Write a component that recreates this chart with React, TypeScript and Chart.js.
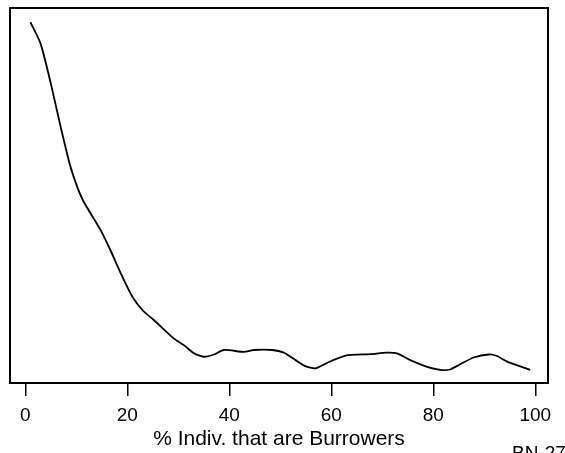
import React, { useEffect, useRef } from "react";
import { Chart, registerables } from "chart.js";

Chart.register(...registerables);

// % of individuals that are burrowers (x) vs curve value (y, arbitrary units 0-100)
const xValues = [
  1.0, 3.0, 5.0, 7.0, 8.9, 11.2, 14.8, 16.7, 18.7, 21.0, 23.0, 25.2, 29.1, 31.1,
  33.1, 35.0, 37.0, 38.9, 42.9, 44.8, 48.4, 50.7, 53.0, 54.9, 56.9, 59.2, 62.8,
  67.7, 70.9, 72.9, 75.5, 78.8, 81.4, 83.3, 85.3, 87.9, 90.9, 92.5, 94.5, 99.0,
];
const yValues = [
  96.2, 90.5, 79.9, 67.9, 57.5, 49.0, 40.7, 35.4, 29.3, 23.0, 19.4, 16.8, 11.9,
  10.1, 7.9, 7.0, 7.6, 8.8, 8.3, 8.8, 8.8, 8.1, 6.1, 4.5, 3.9, 5.4, 7.3, 7.7,
  8.1, 7.9, 6.1, 4.3, 3.5, 3.6, 5.0, 6.8, 7.6, 7.2, 5.7, 3.5,
];
const xTicks = [0, 20, 40, 60, 80, 100];
const xTitle = "% Indiv. that are Burrowers";
const cornerNote = "BN-27";

const FONT = "'Liberation Sans', Arial, Helvetica, sans-serif";

export default function App() {
  const canvasRef = useRef<HTMLCanvasElement | null>(null);

  useEffect(() => {
    document.body.style.margin = "0";
    const canvas = canvasRef.current;
    if (!canvas) return;

    const boxPlugin = {
      id: "boxPlugin",
      afterDraw(chart: any) {
        const { ctx, chartArea } = chart;
        ctx.save();
        ctx.strokeStyle = "#000";
        ctx.lineWidth = 2;
        ctx.strokeRect(
          chartArea.left,
          chartArea.top,
          chartArea.right - chartArea.left,
          chartArea.bottom - chartArea.top
        );
        ctx.fillStyle = "#000";
        ctx.font = `19px ${FONT}`;
        ctx.textBaseline = "top";
        ctx.textAlign = "left";
        ctx.fillText(cornerNote, 512, 444);
        ctx.restore();
      },
    };

    const chart = new Chart(canvas, {
      type: "line",
      data: {
        datasets: [
          {
            data: xValues.map((x, i) => ({ x, y: yValues[i] })),
            borderColor: "#000",
            borderWidth: 1.8,
            pointRadius: 0,
            tension: 0.2,
            fill: false,
          },
        ],
      },
      options: {
        animation: false,
        responsive: false,
        maintainAspectRatio: false,
        layout: { padding: { left: 10, top: 8, right: 17, bottom: 0 } },
        plugins: {
          legend: { display: false },
          tooltip: { enabled: false },
        },
        scales: {
          x: {
            type: "linear",
            min: -3,
            max: 102.5,
            afterBuildTicks: (scale: any) => {
              scale.ticks = xTicks.map((v) => ({ value: v }));
            },
            afterFit: (scale: any) => {
              scale.height = 70;
            },
            grid: {
              display: true,
              drawOnChartArea: false,
              drawTicks: true,
              tickLength: 13,
              color: "#000",
              lineWidth: 1.5,
            },
            border: { display: false },
            ticks: {
              color: "#000",
              font: { family: FONT, size: 19 },
              padding: 8,
              maxRotation: 0,
              autoSkip: false,
            },
            title: {
              display: true,
              text: xTitle,
              color: "#000",
              font: { family: FONT, size: 21 },
              padding: { top: 0, bottom: 1 },
            },
          },
          y: {
            type: "linear",
            display: false,
            min: 0,
            max: 100,
          },
        },
      },
      plugins: [boxPlugin],
    });

    return () => chart.destroy();
  }, []);

  return (
    <div style={{ width: 565, height: 453 }}>
      <canvas ref={canvasRef} width={565} height={453} style={{ display: "block" }} />
    </div>
  );
}
